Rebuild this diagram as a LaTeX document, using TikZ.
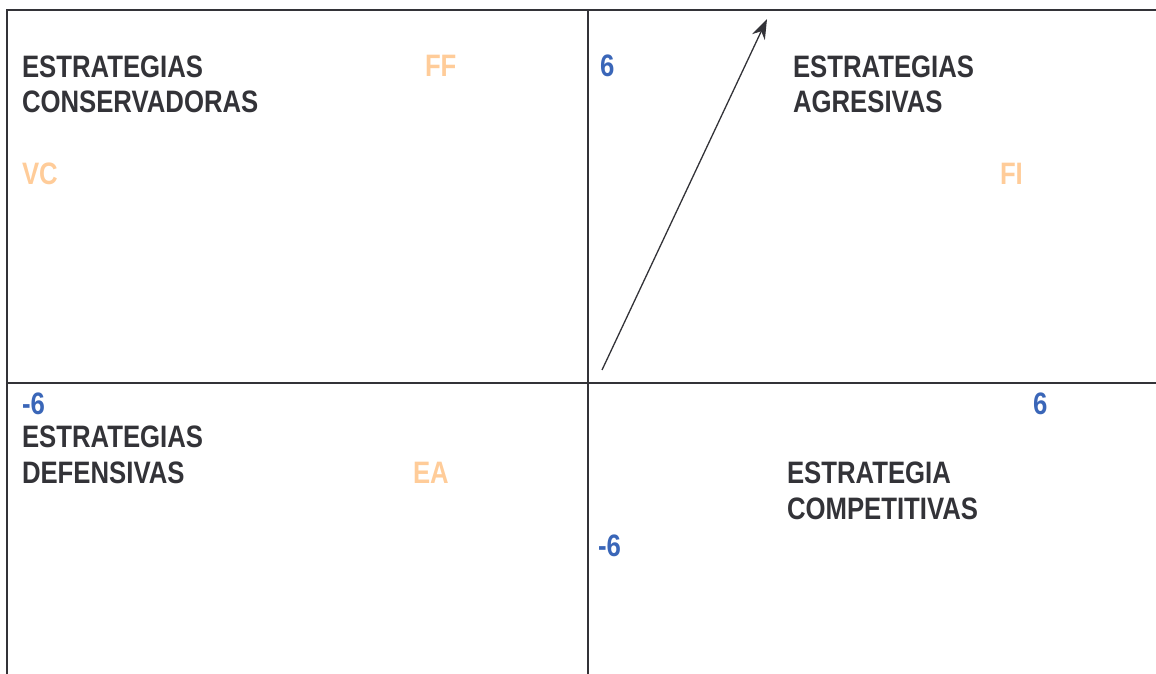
\documentclass[tikz,border=0pt]{standalone}
\usepackage{fontspec}
\setmainfont{Liberation Sans}[FakeStretch=0.83]
\usepackage{tikz}
\usetikzlibrary{arrows.meta,positioning}
\definecolor{tinta}{HTML}{333338}
\definecolor{eje}{HTML}{3A66B8}
\definecolor{factor}{HTML}{FFCC99}
\tikzstyle{rotulo}=[anchor=base west, inner sep=0pt, outer sep=0pt,
                    font=\bfseries\fontsize{31}{35.5}\selectfont, align=left]
\tikzstyle{titulo}=[rotulo, text=tinta]
\tikzstyle{valor} =[rotulo, text=eje]
\tikzstyle{sigla} =[rotulo, text=factor]
\tikzstyle{borde} =[draw=tinta, line width=2pt]

\begin{document}
\begin{tikzpicture}[x=1pt, y=-1pt]
        \useasboundingbox (0,0) rectangle (1156,674);

        % cuadrantes
        \draw[borde] (7,674) -- (7,10) -- (1156,10);
        \draw[borde] (588,10) -- (588,674);
        \draw[borde] (7,383) -- (1156,383);

        % arriba a la izquierda (base = ultima linea)
        \node[titulo] (conservadoras) at (22,113) {ESTRATEGIAS\\CONSERVADORAS};
        \node[sigla]  (ff) at (425,77) {FF};
        \node[sigla]  (vc) at (22,184) {VC};

        % arriba a la derecha
        \node[valor]  (ymax) at (600,77) {6};
        \node[titulo] (agresivas) at (793,113) {ESTRATEGIAS\\AGRESIVAS};
        \node[sigla]  (fi) at (1000,184) {FI};

        % abajo a la izquierda
        \node[valor]  (xmin) at (22,414) {-6};
        \node[titulo] (defensivas) at (22,483) {ESTRATEGIAS\\DEFENSIVAS};
        \node[sigla]  (ea) at (413,483) {EA};

        % abajo a la derecha
        \node[valor]  (xmax) at (1033,414) {6};
        \node[titulo] (competitivas) at (787,519) {ESTRATEGIA\\COMPETITIVAS};
        \node[valor]  (ymin) at (598,556) {-6};

        % vector
        \coordinate (origen) at (602,370);
        \coordinate (punta) at (767,19);
        \draw[tinta, line width=1.3pt, -{Stealth[length=20pt, width=14pt]}]
                (origen) -- (punta);
\end{tikzpicture}
\end{document}
